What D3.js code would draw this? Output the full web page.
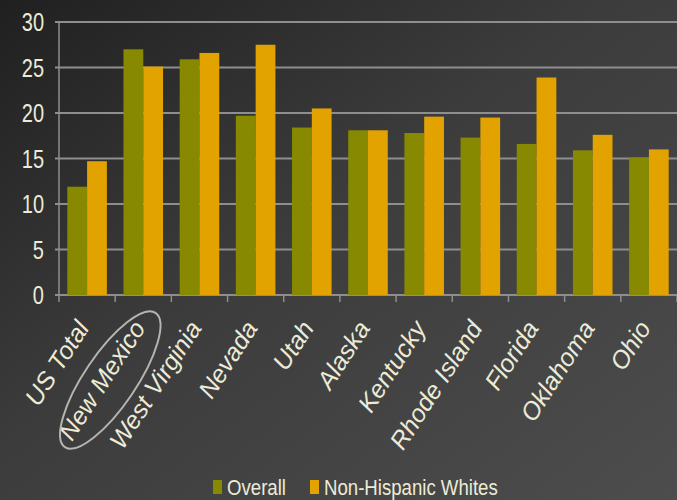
<!DOCTYPE html>
<html>
<head>
<meta charset="utf-8">
<script src="https://cdn.jsdelivr.net/npm/d3@7"></script>
<style>
  html, body { margin: 0; padding: 0; background: #333; }
  svg { display: block; }
</style>
</head>
<body>
<div id="chart"></div>
<script>
const states = ['US Total', 'New Mexico', 'West Virginia', 'Nevada', 'Utah', 'Alaska',
  'Kentucky', 'Rhode Island', 'Florida', 'Oklahoma', 'Ohio']
const overall = [11.9, 27.0, 25.9, 19.7, 18.4, 18.1, 17.8, 17.3, 16.6, 15.9, 15.1]
const nonHispanicWhites = [14.7, 25.1, 26.6, 27.5, 20.5, 18.1, 19.6, 19.5, 23.9, 17.6, 16.0]
const seriesNames = ['Overall', 'Non-Hispanic Whites']
const yTicks = [0, 5, 10, 15, 20, 25, 30]

const width = 677
const height = 500
const margin = { top: 22, right: 0, bottom: 205, left: 59 }
const colors = ['#878a00', '#e2a300']
const textColor = '#ecebd8'
const font = '"Liberation Sans", Arial, sans-serif'

const data = states.map((s, i) => ({ state: s, values: [overall[i], nonHispanicWhites[i]] }))

const svg = d3.select('#chart')
  .append('svg')
  .attr('width', width)
  .attr('height', height)

const defs = svg.append('defs')
const grad = defs.append('linearGradient')
  .attr('id', 'bg')
  .attr('x1', '0%').attr('y1', '0%')
  .attr('x2', '100%').attr('y2', '100%')
grad.append('stop').attr('offset', '0%').attr('stop-color', '#202020')
grad.append('stop').attr('offset', '45%').attr('stop-color', '#3c3c3c')
grad.append('stop').attr('offset', '100%').attr('stop-color', '#4d4d4d')

svg.append('rect')
  .attr('width', width)
  .attr('height', height)
  .attr('fill', 'url(#bg)')

const x = d3.scaleBand()
  .domain(states)
  .range([margin.left, width - margin.right])

const xInner = d3.scaleBand()
  .domain(seriesNames)
  .range([0, x.bandwidth()])
  .paddingInner(0)
  .paddingOuter(0.42)

const y = d3.scaleLinear()
  .domain([0, 30])
  .range([height - margin.bottom, margin.top])

// gridlines
svg.append('g')
  .selectAll('line')
  .data(yTicks)
  .join('line')
  .attr('x1', margin.left - 4)
  .attr('x2', width - margin.right)
  .attr('y1', d => y(d))
  .attr('y2', d => y(d))
  .attr('stroke', '#8e8e8e')
  .attr('stroke-width', 2)

// y axis line
svg.append('line')
  .attr('x1', margin.left).attr('x2', margin.left)
  .attr('y1', y(30)).attr('y2', y(0))
  .attr('stroke', '#8e8e8e')
  .attr('stroke-width', 1.5)

// x ticks at band boundaries
svg.append('g')
  .selectAll('line')
  .data(states.map(s => x(s)).concat([width - margin.right]))
  .join('line')
  .attr('x1', d => d).attr('x2', d => d)
  .attr('y1', y(0)).attr('y2', y(0) + 7)
  .attr('stroke', '#8e8e8e')
  .attr('stroke-width', 1.5)

// bars
svg.append('g')
  .selectAll('g')
  .data(data)
  .join('g')
  .attr('transform', d => `translate(${x(d.state)},0)`)
  .selectAll('rect')
  .data(d => d.values.map((v, i) => ({ key: seriesNames[i], value: v, i })))
  .join('rect')
  .attr('x', d => xInner(d.key))
  .attr('width', xInner.bandwidth())
  .attr('y', d => y(d.value))
  .attr('height', d => y(0) - y(d.value))
  .attr('fill', d => colors[d.i])

// y tick labels (condensed)
svg.append('g')
  .selectAll('text')
  .data(yTicks)
  .join('text')
  .attr('transform', d => `translate(44,${y(d) + 9}) scale(0.8,1)`)
  .attr('text-anchor', 'end')
  .attr('font-family', font)
  .attr('font-size', 25)
  .attr('fill', textColor)
  .text(d => d)

// x labels
const angle = -57
svg.append('g')
  .selectAll('text')
  .data(states)
  .join('text')
  .attr('transform', d => `translate(${x(d) + x.bandwidth() / 2 + 3},${y(0) + 33}) rotate(${angle})`)
  .attr('text-anchor', 'end')
  .attr('font-family', font)
  .attr('font-style', 'italic')
  .attr('font-size', 25)
  .attr('fill', textColor)
  .text(d => d)

// ellipse highlighting New Mexico
const hx = x('New Mexico') + x.bandwidth() / 2 - 33
const hy = y(0) + 85
svg.append('ellipse')
  .attr('transform', `translate(${hx},${hy}) rotate(-56)`)
  .attr('rx', 81)
  .attr('ry', 26)
  .attr('fill', 'none')
  .attr('stroke', '#b5b5b0')
  .attr('stroke-width', 2)

// legend
const legendItems = [
  { name: seriesNames[0], color: colors[0], x: 213 },
  { name: seriesNames[1], color: colors[1], x: 310 }
]
const legend = svg.append('g')
legendItems.forEach(item => {
  legend.append('rect')
    .attr('x', item.x)
    .attr('y', 480)
    .attr('width', 9)
    .attr('height', 14)
    .attr('fill', item.color)
  legend.append('text')
    .attr('transform', `translate(${item.x + 14},495) scale(0.81,1)`)
    .attr('font-family', font)
    .attr('font-size', 23)
    .attr('fill', textColor)
    .text(item.name)
})
</script>
</body>
</html>
